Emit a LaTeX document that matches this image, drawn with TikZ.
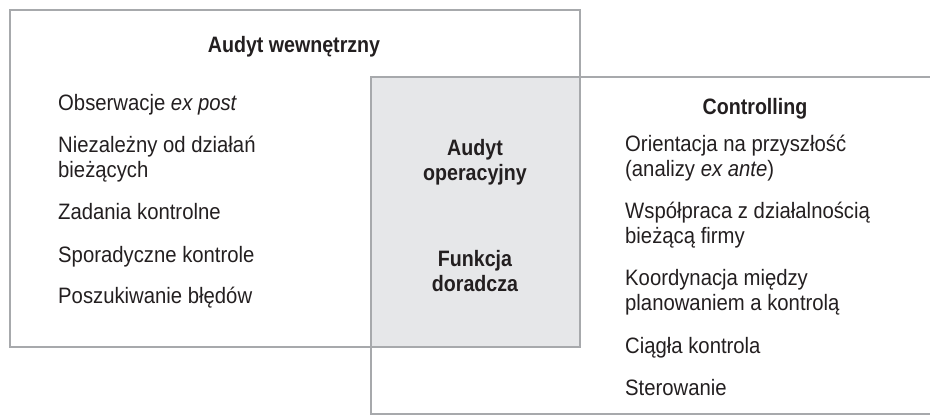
\documentclass[tikz,border=0pt]{standalone}
\usepackage{fontspec}
\setmainfont{Liberation Sans}[FakeStretch=0.91,BoldFeatures={FakeStretch=0.88}]
\definecolor{frame}{HTML}{A7A9AC}
\definecolor{areagray}{HTML}{E6E7E9}
\definecolor{ink}{HTML}{231F20}
% two stacked lines whose baseline is that of the first line
\newcommand{\twoleft}[2]{\vtop{\hbox{#1}\hbox{#2}}}
\newcommand{\twocenter}[2]{\vtop{\halign{\hfil##\hfil\cr#1\cr#2\cr}}}
\begin{document}
\begin{tikzpicture}[x=1pt,y=-1pt,
  boxline/.style={draw=frame,line width=2.6pt},
  item/.style={anchor=base west,inner sep=0pt,text=ink,
    font=\fontsize{22.3}{25}\selectfont},
  heading/.style={anchor=base,inner sep=0pt,text=ink,
    font=\fontsize{22.3}{25}\selectfont\bfseries}]
\useasboundingbox (0,0) rectangle (930,416);
\begin{scope}
  \clip (0,0) rectangle (930,416);
  % shared area of the two fields
  \fill[areagray] (371,77) rectangle (580,347);
  % internal audit field
  \draw[boxline] (10,10) rectangle (580,347);
  % controlling field, open to the right
  \draw[boxline] (371,77) rectangle (945,414);
\end{scope}

% internal audit
\node[heading] (audit) at (294,52) {Audyt wewnętrzny};
\node[item] (a1) at (58,110) {Obserwacje \textit{ex post}};
\node[item] (a2) at (58,152) {\twoleft{Niezależny od działań}{bieżących}};
\node[item] (a3) at (58,219) {Zadania kontrolne};
\node[item] (a4) at (58,262) {Sporadyczne kontrole};
\node[item] (a5) at (58,303) {Poszukiwanie błędów};

% common part
\node[heading] (op) at (475,155) {\twocenter{Audyt}{operacyjny}};
\node[heading] (adv) at (475,266) {\twocenter{Funkcja}{doradcza}};

% controlling
\node[heading] (ctrl) at (755,114) {Controlling};
\node[item] (c1) at (625,151) {\twoleft{Orientacja na przyszłość}{(analizy \textit{ex ante})}};
\node[item] (c2) at (625,218) {\twoleft{Współpraca z działalnością}{bieżącą firmy}};
\node[item] (c3) at (625,285) {\twoleft{Koordynacja między}{planowaniem a kontrolą}};
\node[item] (c4) at (625,353) {Ciągła kontrola};
\node[item] (c5) at (625,395) {Sterowanie};
\end{tikzpicture}
\end{document}
